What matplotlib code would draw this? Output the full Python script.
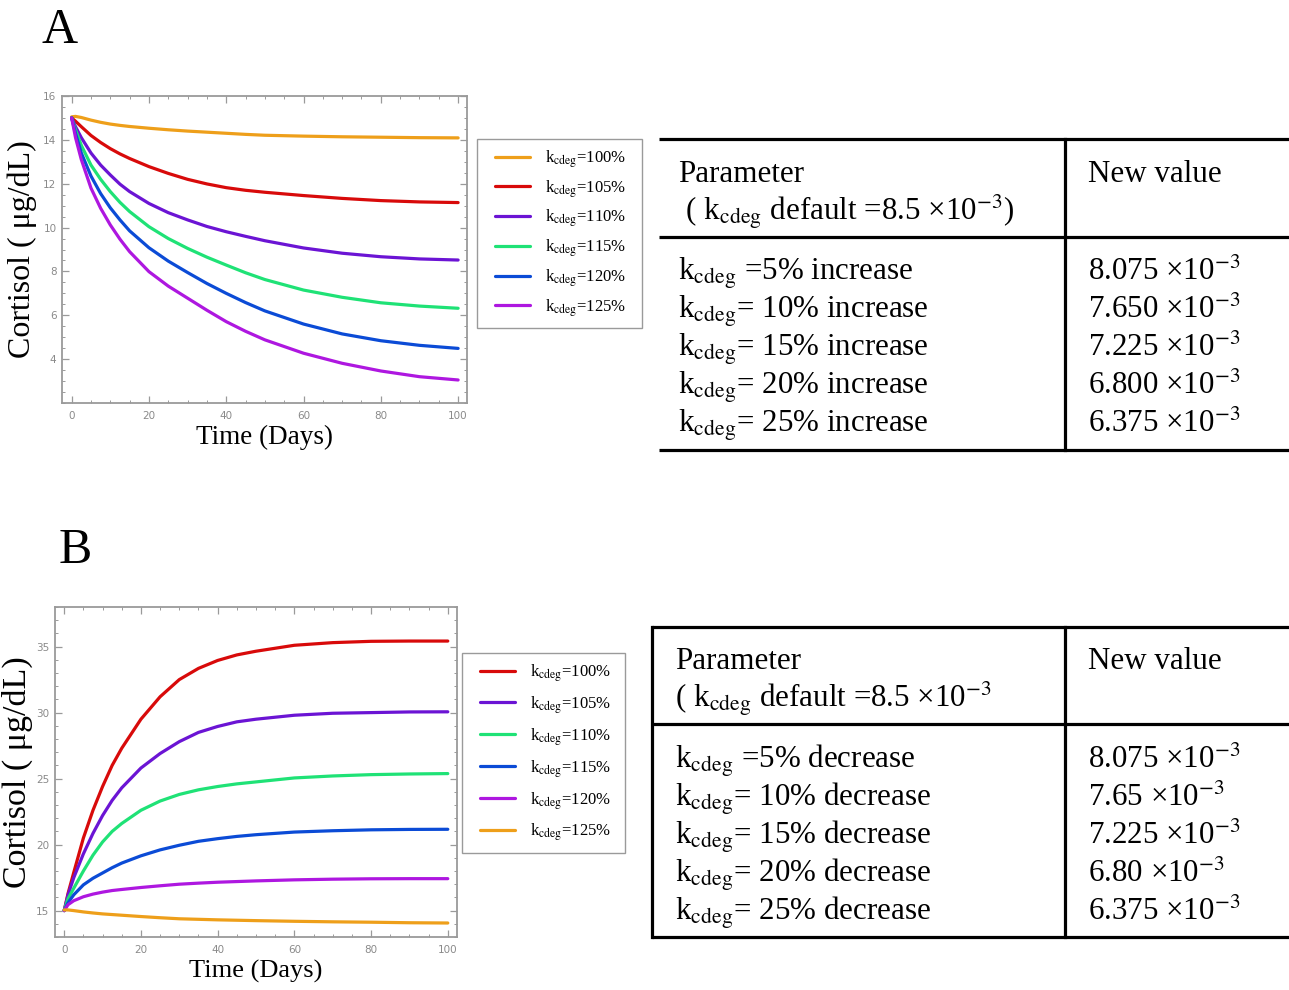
import matplotlib
matplotlib.use('Agg')
import matplotlib.pyplot as plt
from matplotlib.ticker import MultipleLocator
from matplotlib.lines import Line2D
from matplotlib.legend_handler import HandlerLine2D

plt.rcParams['font.family'] = ['Liberation Serif', 'DejaVu Serif']
plt.rcParams['mathtext.fontset'] = 'stix'

# ---------------- data ----------------
t = [0, 1, 2.5, 5, 7.5, 10, 12.5, 15, 20, 25, 30, 35, 40, 45, 50, 60, 70, 80, 90, 100]

A_100 = [15.05, 15.07, 15.02, 14.9, 14.8, 14.72, 14.66, 14.61, 14.53, 14.46, 14.4, 14.35, 14.3, 14.25, 14.21, 14.17, 14.14, 14.12, 14.1, 14.09]
A_105 = [15.0, 14.85, 14.6, 14.2, 13.88, 13.6, 13.36, 13.15, 12.78, 12.47, 12.2, 11.99, 11.82, 11.7, 11.61, 11.46, 11.33, 11.23, 11.17, 11.14]
A_110 = [15.0, 14.6, 14.1, 13.4, 12.85, 12.4, 11.98, 11.64, 11.1, 10.68, 10.35, 10.05, 9.81, 9.6, 9.4, 9.07, 8.83, 8.67, 8.57, 8.52]
A_115 = [15.0, 14.45, 13.75, 12.85, 12.2, 11.64, 11.15, 10.73, 10.04, 9.5, 9.05, 8.65, 8.29, 7.94, 7.63, 7.15, 6.82, 6.57, 6.42, 6.32]
A_120 = [15.0, 14.3, 13.4, 12.35, 11.55, 10.9, 10.35, 9.85, 9.08, 8.47, 7.95, 7.45, 7.0, 6.58, 6.2, 5.6, 5.15, 4.84, 4.63, 4.49]
A_125 = [15.0, 14.1, 13.1, 11.8, 10.88, 10.12, 9.47, 8.9, 7.99, 7.33, 6.78, 6.23, 5.71, 5.27, 4.88, 4.27, 3.81, 3.46, 3.2, 3.05]

B_100 = [15.0, 16.3, 17.9, 20.5, 22.6, 24.4, 26.0, 27.3, 29.5, 31.2, 32.5, 33.35, 33.95, 34.37, 34.65, 35.1, 35.3, 35.4, 35.42, 35.42]
B_105 = [15.0, 16.2, 17.5, 19.3, 20.85, 22.2, 23.35, 24.3, 25.8, 26.9, 27.8, 28.5, 28.95, 29.3, 29.5, 29.8, 29.95, 30.0, 30.05, 30.06]
B_110 = [15.0, 15.9, 16.7, 18.0, 19.2, 20.2, 21.0, 21.6, 22.6, 23.3, 23.8, 24.15, 24.4, 24.6, 24.75, 25.05, 25.2, 25.3, 25.35, 25.38]
B_115 = [15.0, 15.6, 16.2, 16.95, 17.45, 17.85, 18.25, 18.6, 19.15, 19.6, 19.95, 20.25, 20.45, 20.62, 20.75, 20.95, 21.05, 21.12, 21.15, 21.16]
B_120 = [15.0, 15.45, 15.75, 16.05, 16.25, 16.4, 16.52, 16.6, 16.75, 16.88, 17.0, 17.08, 17.15, 17.2, 17.25, 17.33, 17.38, 17.41, 17.42, 17.42]
B_125 = [15.05, 15.05, 15.0, 14.9, 14.82, 14.75, 14.7, 14.65, 14.55, 14.46, 14.38, 14.34, 14.3, 14.27, 14.24, 14.19, 14.15, 14.12, 14.08, 14.06]

legend_labels = ['100%', '105%', '110%', '115%', '120%', '125%']

colA = ['#EE9F1A', '#D80A0A', '#6B14D4', '#1FE276', '#0B4BD6', '#AE17E0']
colB = ['#D80A0A', '#6B14D4', '#1FE276', '#0B4BD6', '#AE17E0', '#EE9F1A']

A_header = ['Parameter', r' ( k$_{\mathrm{cdeg}}$ default =8.5 ×10$^{-3}$)']
B_header = ['Parameter', r'( k$_{\mathrm{cdeg}}$ default =8.5 ×10$^{-3}$']
A_rows = [r'k$_{\mathrm{cdeg}}$ =5% increase', r'k$_{\mathrm{cdeg}}$= 10% increase',
          r'k$_{\mathrm{cdeg}}$= 15% increase', r'k$_{\mathrm{cdeg}}$= 20% increase',
          r'k$_{\mathrm{cdeg}}$= 25% increase']
A_vals = [r'8.075 ×10$^{-3}$', r'7.650 ×10$^{-3}$', r'7.225 ×10$^{-3}$',
          r'6.800 ×10$^{-3}$', r'6.375 ×10$^{-3}$']
B_rows = [r'k$_{\mathrm{cdeg}}$ =5% decrease', r'k$_{\mathrm{cdeg}}$= 10% decrease',
          r'k$_{\mathrm{cdeg}}$= 15% decrease', r'k$_{\mathrm{cdeg}}$= 20% decrease',
          r'k$_{\mathrm{cdeg}}$= 25% decrease']
B_vals = [r'8.075 ×10$^{-3}$', r'7.65 ×10$^{-3}$', r'7.225 ×10$^{-3}$',
          r'6.80 ×10$^{-3}$', r'6.375 ×10$^{-3}$']

# ---------------- figure ----------------
W, H = 1289, 990
fig = plt.figure(figsize=(W / 100, H / 100), dpi=100)

def frac(x0, y0, x1, y1):
    return [x0 / W, 1 - y1 / H, (x1 - x0) / W, (y1 - y0) / H]

FRAME = '#9a9a9a'
TICKC = '#8a8a8a'

def style_axes(ax, ymajor, yminor, yticks):
    for s in ax.spines.values():
        s.set_color(FRAME)
        s.set_linewidth(1.3)
    ax.xaxis.set_major_locator(MultipleLocator(20))
    ax.xaxis.set_minor_locator(MultipleLocator(5))
    ax.yaxis.set_major_locator(MultipleLocator(ymajor))
    ax.yaxis.set_minor_locator(MultipleLocator(yminor))
    ax.set_yticks(yticks)
    ax.tick_params(which='both', direction='in', top=True, right=True,
                   color=FRAME, labelcolor=TICKC, labelsize=7.5)
    ax.tick_params(which='major', length=5, width=0.9)
    ax.tick_params(which='minor', length=2.5, width=0.7)
    ax.tick_params(axis='x', pad=6)
    ax.tick_params(axis='y', pad=4)
    for lab in ax.get_xticklabels() + ax.get_yticklabels():
        lab.set_family('DejaVu Sans')

def legend(ax, x0, y0, x1, spacing):
    leg = ax.legend(loc='upper left', bbox_to_anchor=(x0 / W, 1 - y0 / H, (x1 - x0) / W, 0),
                    bbox_transform=fig.transFigure, mode='expand', fontsize=12,
                    frameon=True, fancybox=False, edgecolor=FRAME, framealpha=1,
                    handlelength=2.65, handletextpad=0.9, labelspacing=spacing,
                    borderpad=0.55, borderaxespad=0,
                    handler_map={Line2D: HandlerLine2D(xpad=0.5)})
    leg.get_frame().set_linewidth(1.0)
    return leg

# ---- panel A chart ----
axA = fig.add_axes(frac(62, 96, 467, 403))
for vals, c, lab in zip([A_100, A_105, A_110, A_115, A_120, A_125], colA, legend_labels):
    axA.plot(t, vals, color=c, lw=2.3, label=r'k$_{\mathrm{cdeg}}$=' + lab,
             solid_capstyle='round', solid_joinstyle='round')
axA.set_xlim(-2.5, 102.3)
axA.set_ylim(2, 16)
style_axes(axA, 2, 0.5, [4, 6, 8, 10, 12, 14, 16])
axA.set_xlabel('Time (Days)', fontsize=19.5)
axA.set_ylabel('Cortisol ( μg/dL)', fontsize=23)
axA.xaxis.set_label_coords(0.5, -0.071)
axA.yaxis.set_label_coords(-0.062, 0.5)
legend(axA, 477, 139, 642, 0.49)

# ---- panel B chart ----
axB = fig.add_axes(frac(55, 607, 457, 937))
for vals, c, lab in zip([B_100, B_105, B_110, B_115, B_120, B_125], colB, legend_labels):
    axB.plot(t, vals, color=c, lw=2.3, label=r'k$_{\mathrm{cdeg}}$=' + lab,
             solid_capstyle='round', solid_joinstyle='round')
axB.set_xlim(-2.4, 102.4)
axB.set_ylim(13, 38)
style_axes(axB, 5, 1, [15, 20, 25, 30, 35])
axB.set_xlabel('Time (Days)', fontsize=19)
axB.set_ylabel('Cortisol ( μg/dL)', fontsize=24.5)
axB.xaxis.set_label_coords(0.5, -0.07)
axB.yaxis.set_label_coords(-0.055, 0.5)
legend(axB, 462, 653, 625, 0.62)

# ---- overlay for tables and panel letters (pixel coordinates) ----
ov = fig.add_axes([0, 0, 1, 1])
ov.set_xlim(0, W)
ov.set_ylim(H, 0)
ov.set_axis_off()

LW = 2.3
TFS = 22.3

# table A
for y in (139, 237, 450):
    ov.plot([659, W], [y, y], color='black', lw=LW, solid_capstyle='butt')
ov.plot([1065, 1065], [139, 450], color='black', lw=LW)
ov.text(678, 182, A_header[0], fontsize=TFS, va='baseline')
ov.text(678, 220, A_header[1], fontsize=TFS, va='baseline')
ov.text(1088, 182, 'New value', fontsize=TFS, va='baseline')
for i, (r, v) in enumerate(zip(A_rows, A_vals)):
    yb = 280 + 38 * i
    ov.text(678, yb, r, fontsize=TFS, va='baseline')
    ov.text(1088, yb, v, fontsize=TFS, va='baseline')

# table B
for y in (627, 724, 937):
    ov.plot([652, W], [y, y], color='black', lw=LW, solid_capstyle='butt')
ov.plot([652, 652], [627, 937], color='black', lw=LW)
ov.plot([1065, 1065], [627, 937], color='black', lw=LW)
ov.text(675, 669, B_header[0], fontsize=TFS, va='baseline')
ov.text(675, 707, B_header[1], fontsize=TFS, va='baseline')
ov.text(1088, 669, 'New value', fontsize=TFS, va='baseline')
for i, (r, v) in enumerate(zip(B_rows, B_vals)):
    yb = 768 + 38 * i
    ov.text(675, yb, r, fontsize=TFS, va='baseline')
    ov.text(1088, yb, v, fontsize=TFS, va='baseline')

# panel letters
ov.text(60, 43, 'A', fontsize=36, ha='center', va='baseline')
ov.text(75, 563, 'B', fontsize=36, ha='center', va='baseline')

fig.savefig('out.png', dpi=100)
